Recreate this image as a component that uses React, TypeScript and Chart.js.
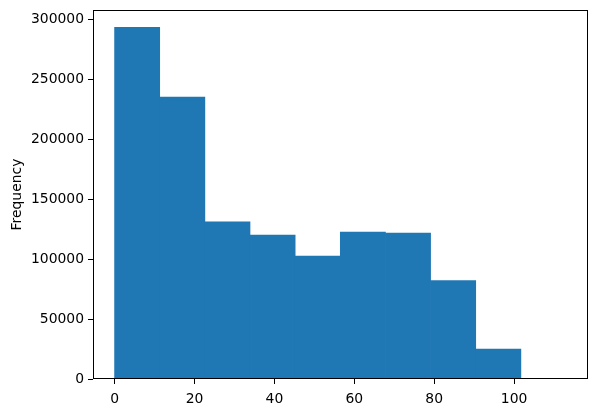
import React, { useEffect, useRef } from "react";
import { Chart, registerables } from "chart.js";

Chart.register(...registerables);

// Histogram bin edges and counts
const binEdges = [0, 11.3, 22.6, 33.9, 45.2, 56.5, 67.8, 79.1, 90.4, 101.7, 113.0];
const frequencies = [293000, 235000, 131000, 120000, 102500, 122500, 121500, 82000, 25000, 200];
const xTicks = [0, 20, 40, 60, 80, 100];
const yTicks = [0, 50000, 100000, 150000, 200000, 250000, 300000];
const yLabel = "Frequency";

const FONT = { family: "DejaVu Sans", size: 13.9 };

const framePlugin = {
  id: "frame",
  afterDraw(chart: any) {
    const { ctx, chartArea } = chart;
    const l = Math.round(chartArea.left) + 0.5;
    const t = Math.round(chartArea.top) + 0.5;
    const r = Math.round(chartArea.right) - 0.5;
    const b = Math.round(chartArea.bottom) - 0.5;
    ctx.save();
    ctx.strokeStyle = "#000";
    ctx.lineWidth = 1;
    ctx.strokeRect(l, t, r - l, b - t);
    ctx.restore();
  },
};

export default function App() {
  const ref = useRef<HTMLCanvasElement | null>(null);

  useEffect(() => {
    if (!ref.current) return;
    const points = frequencies.map((f, i) => ({
      x: (binEdges[i] + binEdges[i + 1]) / 2,
      y: f,
    }));
    const chart = new Chart(ref.current, {
      type: "bar",
      data: {
        datasets: [
          {
            data: points as any,
            backgroundColor: "#1f77b4",
            borderWidth: 0,
            barPercentage: 1,
            categoryPercentage: 1,
            grouped: false,
          },
        ],
      },
      options: {
        animation: false,
        responsive: false,
        devicePixelRatio: 1,
        layout: { padding: { left: 0, top: 10, right: 9, bottom: 0 } },
        plugins: { legend: { display: false }, tooltip: { enabled: false } },
        scales: {
          x: {
            type: "linear",
            min: -5.4,
            max: 118.5,
            offset: false,
            afterFit: (s: any) => {
              s.height = 34;
              s.paddingLeft = 0;
              s.paddingRight = 0;
            },
            afterBuildTicks: (s: any) => {
              s.ticks = xTicks.map((v) => ({ value: v }));
            },
            ticks: {
              font: FONT,
              color: "#000",
              padding: 7,
              maxRotation: 0,
              autoSkip: false,
              callback: (v: any) => String(v),
            },
            grid: {
              offset: false,
              drawOnChartArea: false,
              drawTicks: true,
              tickLength: 5,
              tickColor: "#000",
              tickWidth: 1,
            },
            border: { display: false },
          },
          y: {
            type: "linear",
            min: 0,
            max: 307500,
            afterFit: (s: any) => {
              s.width = 93;
              s.paddingTop = 0;
              s.paddingBottom = 0;
            },
            afterBuildTicks: (s: any) => {
              s.ticks = yTicks.map((v) => ({ value: v }));
            },
            ticks: {
              font: FONT,
              color: "#000",
              padding: 4,
              autoSkip: false,
              callback: (v: any) => String(v),
            },
            grid: {
              offset: false,
              drawOnChartArea: false,
              drawTicks: true,
              tickLength: 5,
              tickColor: "#000",
              tickWidth: 1,
            },
            border: { display: false },
            title: {
              display: true,
              text: yLabel,
              font: FONT,
              color: "#000",
              padding: { top: 9, bottom: 0 },
            },
          },
        },
      },
      plugins: [framePlugin],
    });
    return () => chart.destroy();
  }, []);

  return (
    <div style={{ position: "absolute", left: 0, top: 0, width: 597, height: 413, background: "#fff" }}>
      <canvas ref={ref} width={597} height={413} style={{ width: 597, height: 413 }} />
    </div>
  );
}
